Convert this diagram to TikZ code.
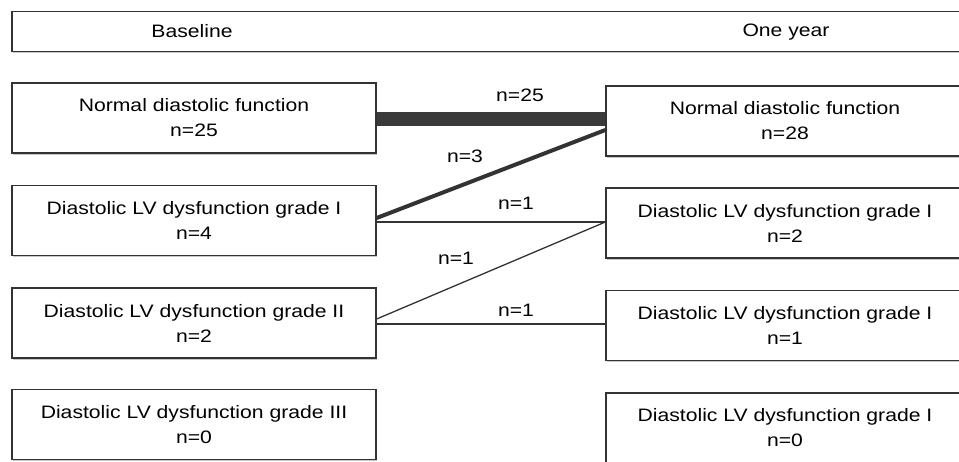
\documentclass[tikz,border=0pt]{standalone}
\usepackage{fontspec}
\setmainfont[FakeStretch=1.175]{Liberation Sans}
\usetikzlibrary{shadows,calc}
\definecolor{ink}{HTML}{333333}
\definecolor{band}{HTML}{3A3A3A}
\tikzset{
  box/.style={draw=ink, line width=1.3pt, fill=white, align=center,
    inner sep=0pt, font=\fontsize{18}{25}\selectfont,
    drop shadow={shadow xshift=1.2pt, shadow yshift=-1.8pt, fill=gray!55, opacity=0.8}},
  lbox/.style={box, minimum width=364pt, minimum height=70pt},
  rbox/.style={box, minimum width=358pt, minimum height=70pt},
  lab/.style={font=\fontsize{18}{22}\selectfont, inner sep=0pt},
  thin/.style={draw=ink, line width=1.3pt},
}
\begin{document}
\begin{tikzpicture}[x=1pt,y=-1pt]
\useasboundingbox (0,0) rectangle (959,462);
\clip (0,0) rectangle (959,462);
% header
\node[box, minimum width=958pt, minimum height=40pt] (head) at (491,31.5) {};
\node[lab] (tb) at (192,31) {Baseline};
\node[lab] (ty) at (786,32) {One year};
% left column
\node[lbox] (L1) at (194,118) {Normal diastolic function\\n=25};
\node[lbox] (L2) at (194,220.5) {Diastolic LV dysfunction grade I\\n=4};
\node[lbox] (L3) at (194,323) {Diastolic LV dysfunction grade II\\n=2};
\node[lbox] (L4) at (194,424.5) {Diastolic LV dysfunction grade III\\n=0};
% right column
\node[rbox] (R1) at (785,121) {Normal diastolic function\\n=28};
\node[rbox] (R2) at (785,223) {Diastolic LV dysfunction grade I\\n=2};
\node[rbox] (R3) at (785,325.5) {Diastolic LV dysfunction grade I\\n=1};
\node[rbox] (R4) at (785,428) {Diastolic LV dysfunction grade I\\n=0};
% connectors
\draw[band, line width=14pt] ([yshift=-1.5pt]L1.east) -- ([yshift=1.5pt]R1.west);
\draw[ink, line width=4pt] ([yshift=2.5pt]L2.east) -- ([yshift=-9pt]R1.west);
\draw[thin] ([yshift=-1.5pt]L2.east) -- ([yshift=1pt]R2.west);
\draw[thin] ([yshift=4pt]L3.east) -- ([yshift=1pt]R2.west);
\draw[thin] ([yshift=-1pt]L3.east) -- ([yshift=1.5pt]R3.west);
% labels
\node[lab] (n25) at (520,95) {n=25};
\node[lab] (n3) at (465,156) {n=3};
\node[lab] (n1a) at (516,203) {n=1};
\node[lab] (n1b) at (456,258) {n=1};
\node[lab] (n1c) at (516,310) {n=1};
\end{tikzpicture}
\end{document}
